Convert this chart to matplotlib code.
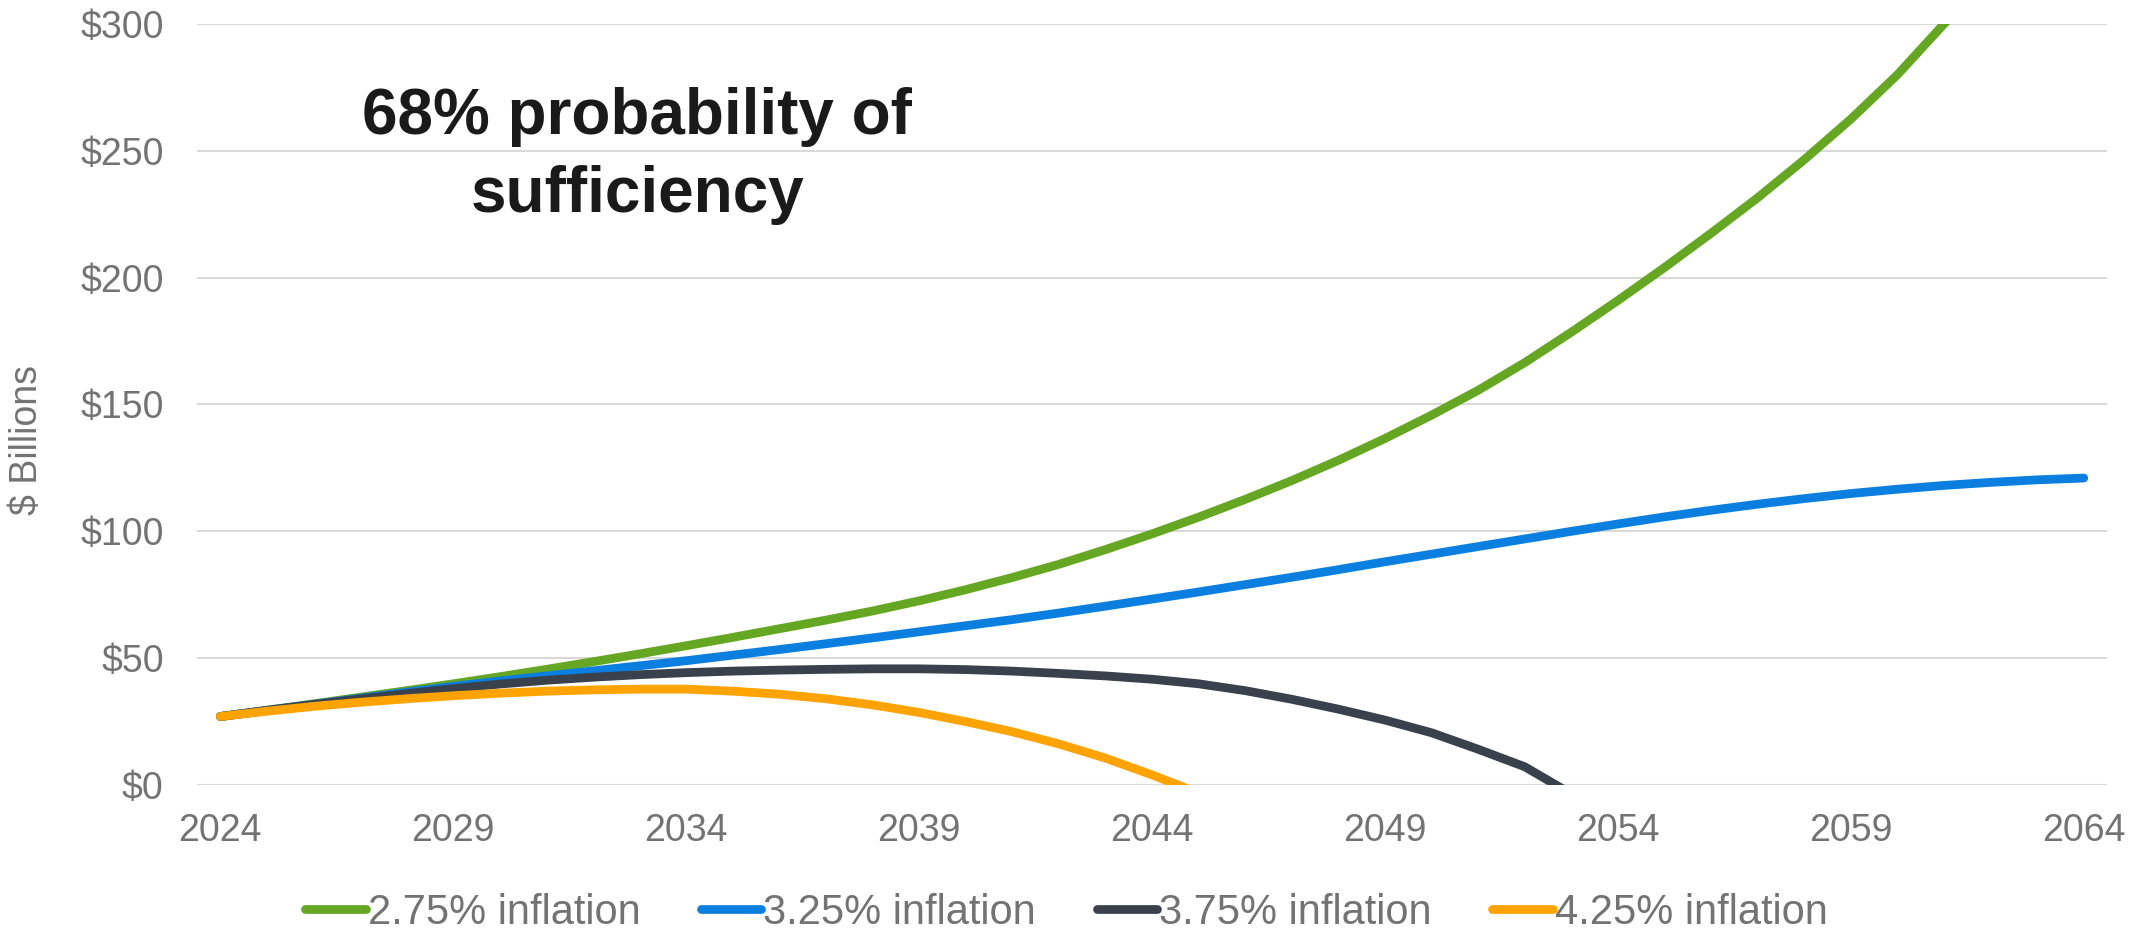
import matplotlib
matplotlib.use("Agg")
import matplotlib.pyplot as plt

plt.rcParams['font.family'] = ['Liberation Sans', 'DejaVu Sans']

# data ($ billions)
years = list(range(2024, 2065))

infl_275 = [27.0, 29.5, 32.0, 34.6, 37.2, 39.9, 42.7, 45.6, 48.6, 51.7,
            54.9, 58.2, 61.6, 65.0, 68.6, 72.6, 77.0, 81.8, 87.0, 92.8,
            99.0, 105.6, 112.6, 120.0, 128.0, 136.6, 145.8, 155.6, 166.5, 178.5,
            191.0, 204.0, 217.5, 231.5, 246.5, 262.5, 280.0, 300.0, 318.0, 339.0,
            361.0]
infl_325 = [27.0, 29.4, 31.8, 34.2, 36.6, 38.9, 41.0, 43.0, 45.0, 47.0,
            49.0, 51.2, 53.4, 55.7, 58.0, 60.4, 62.8, 65.2, 67.8, 70.5,
            73.3, 76.1, 79.0, 81.9, 84.9, 88.0, 91.0, 94.0, 97.0, 100.0,
            102.9, 105.7, 108.3, 110.7, 112.9, 114.9, 116.6, 118.1, 119.3, 120.3,
            121.0]
infl_375 = [27.0, 29.4, 31.7, 33.9, 36.0, 38.0, 39.8, 41.3, 42.5, 43.5,
            44.3, 44.9, 45.3, 45.6, 45.8, 45.8, 45.5, 44.9, 44.0, 43.0,
            41.7, 39.9, 37.2, 33.8, 29.9, 25.6, 20.6, 14.1, 7.2, -3.5]
infl_425 = [27.0, 29.1, 31.0, 32.6, 34.0, 35.2, 36.2, 37.0, 37.5, 37.8,
            37.8, 37.0, 35.8, 34.0, 31.6, 28.6, 25.0, 21.0, 16.2, 10.6,
            4.0, -3.2]

labels = ['2.75% inflation', '3.25% inflation', '3.75% inflation', '4.25% inflation']
colors = ['#65a723', '#0a7fe0', '#39414d', '#ffa300']
series = [infl_275, infl_325, infl_375, infl_425]

yticks = [0, 50, 100, 150, 200, 250, 300]
ytick_labels = ['$0', '$50', '$100', '$150', '$200', '$250', '$300']
xticks = years[::5]

fig = plt.figure(figsize=(21.56, 9.36), dpi=100)
ax = fig.add_axes([0.0914, 0.1613, 0.8859, 0.8131])

for vals, lab, col in zip(series, labels, colors):
    ax.plot(years[:len(vals)], vals, color=col, lw=6.3, label=lab,
            solid_capstyle='round', solid_joinstyle='round')

ax.set_xlim(2023.5, 2064.5)
ax.set_ylim(0, 300)
ax.set_yticks(yticks)
ax.set_yticklabels(ytick_labels)
ax.set_xticks(xticks)
ax.set_xticklabels([str(y) for y in xticks])
ax.tick_params(axis='both', length=0, labelsize=27, colors='#737373')
ax.tick_params(axis='x', pad=20)
ax.tick_params(axis='y', pad=24)
ax.grid(axis='y', color='#d9d9d9', lw=1.5)
ax.set_axisbelow(True)
for s in ax.spines.values():
    s.set_visible(False)

ax.set_ylabel('$ Billions', fontsize=27, color='#737373')
ax.yaxis.set_label_coords(-0.0796, 0.453)

ax.text(0.2304, 0.826, '68% probability of\nsufficiency', transform=ax.transAxes,
        ha='center', va='center', fontsize=46, fontweight='bold', color='#1a1a1a',
        linespacing=1.38)

leg = fig.legend(loc='center', bbox_to_anchor=(0.4946, 0.025), ncol=4, frameon=False,
                 fontsize=30, handlelength=1.45, handletextpad=0.05, columnspacing=1.45,
                 labelcolor='#737373')
for h in leg.get_lines():
    h.set_linewidth(6.3)

fig.savefig('out.png', dpi=100)
